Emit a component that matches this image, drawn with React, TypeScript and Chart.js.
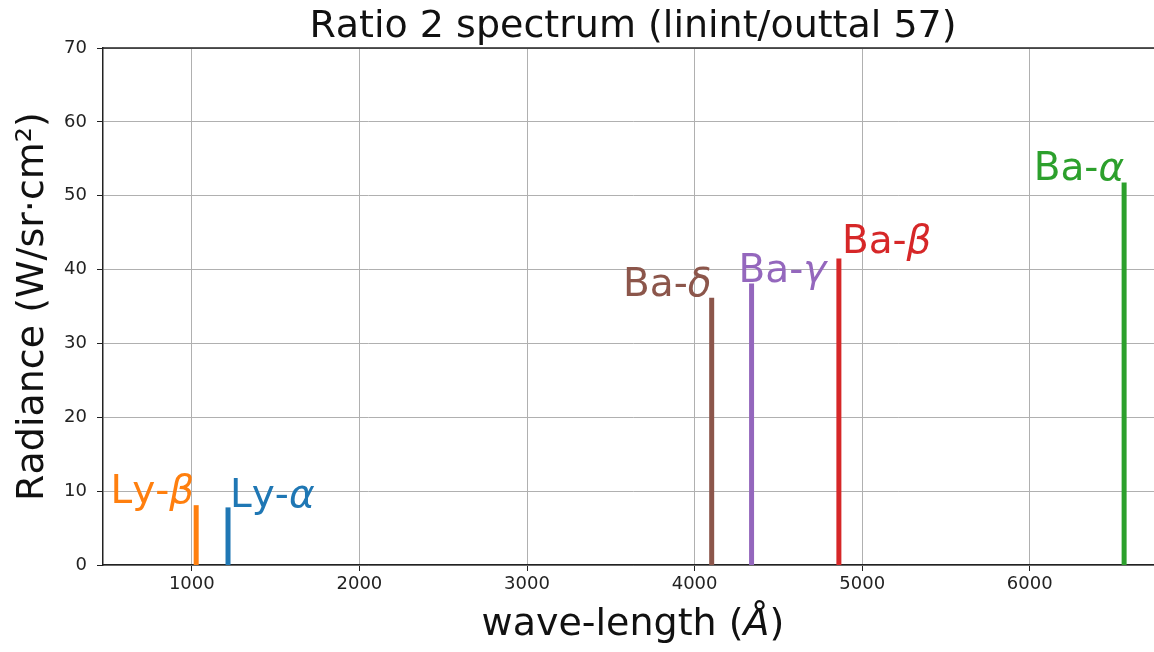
import React, { useEffect, useRef } from 'react';
import { Chart, registerables } from 'chart.js';

Chart.register(...registerables);

// ---- data ----
const linePrefixes = ['Ly-', 'Ly-', 'Ba-', 'Ba-', 'Ba-', 'Ba-'];
const greekLetters = ['α', 'β', 'α', 'β', 'γ', 'δ'];
const wavelengths = [1216, 1026, 6563, 4861, 4340, 4102];
const radiances = [7.8, 8.1, 51.8, 41.5, 38.1, 36.2];
const xTickValues = [1000, 2000, 3000, 4000, 5000, 6000];
const yTickValues = [0, 10, 20, 30, 40, 50, 60, 70];

const titleText = 'Ratio 2 spectrum (linint/outtal 57)';
const yTitleText = 'Radiance (W/sr·cm²)';
const xTitlePre = 'wave-length (';
const xTitleItalic = 'Å';
const xTitlePost = ')';

// ---- styles ----
const lineColors = ['#1f77b4', '#ff7f0e', '#2ca02c', '#d62728', '#9467bd', '#8c564b'];
const labelAlign = ['left', 'right', 'right', 'left', 'left', 'right'];
const labelDx = [2, -2, 0, 3, -13, 0];
const labelDy = [0, -2, -2, -5, -2, -2];

const FONT = '"DejaVu Sans", sans-serif';
const LABEL_SIZE = 39;
const TITLE_SIZE = 38;

const textPlugin = {
  id: 'spectrumText',
  afterDatasetsDraw(chart: any) {
    const ctx = chart.ctx as CanvasRenderingContext2D;
    const xs = chart.scales.x;
    const ys = chart.scales.y;
    ctx.save();
    (ctx as any).fontKerning = 'none';
    ctx.textBaseline = 'alphabetic';
    for (let i = 0; i < wavelengths.length; i++) {
      const px = xs.getPixelForValue(wavelengths[i]) + labelDx[i];
      const py = ys.getPixelForValue(radiances[i]) + labelDy[i];
      ctx.font = `${LABEL_SIZE}px ${FONT}`;
      const w1 = ctx.measureText(linePrefixes[i]).width;
      ctx.font = `italic ${LABEL_SIZE}px ${FONT}`;
      const w2 = ctx.measureText(greekLetters[i]).width;
      const start = labelAlign[i] === 'right' ? px - w1 - w2 : px;
      ctx.fillStyle = lineColors[i];
      ctx.textAlign = 'left';
      ctx.font = `${LABEL_SIZE}px ${FONT}`;
      ctx.fillText(linePrefixes[i], start, py);
      ctx.font = `italic ${LABEL_SIZE}px ${FONT}`;
      ctx.fillText(greekLetters[i], start + w1, py);
    }
    ctx.restore();
  },
  afterDraw(chart: any) {
    const ctx = chart.ctx as CanvasRenderingContext2D;
    const area = chart.chartArea;
    const cx = (area.left + area.right) / 2;
    const cy = (area.top + area.bottom) / 2;
    ctx.save();
    (ctx as any).fontKerning = 'none';
    // top spine
    ctx.strokeStyle = '#222';
    ctx.lineWidth = 1.5;
    ctx.beginPath();
    ctx.moveTo(area.left, area.top);
    ctx.lineTo(area.right, area.top);
    ctx.stroke();
    // title
    ctx.fillStyle = '#111';
    ctx.textBaseline = 'alphabetic';
    ctx.textAlign = 'center';
    ctx.font = `${TITLE_SIZE}px ${FONT}`;
    ctx.fillText(titleText, cx, 37);
    // x title
    ctx.font = `${TITLE_SIZE}px ${FONT}`;
    const a = ctx.measureText(xTitlePre).width;
    const c = ctx.measureText(xTitlePost).width;
    ctx.font = `italic ${TITLE_SIZE}px ${FONT}`;
    const b = ctx.measureText(xTitleItalic).width;
    const sx = cx - (a + b + c) / 2;
    ctx.textAlign = 'left';
    ctx.font = `${TITLE_SIZE}px ${FONT}`;
    ctx.fillText(xTitlePre, sx, 635);
    ctx.font = `italic ${TITLE_SIZE}px ${FONT}`;
    ctx.fillText(xTitleItalic, sx + a, 635);
    ctx.font = `${TITLE_SIZE}px ${FONT}`;
    ctx.fillText(xTitlePost, sx + a + b, 635);
    // y title
    ctx.translate(43, cy);
    ctx.rotate(-Math.PI / 2);
    ctx.textAlign = 'center';
    ctx.font = `${TITLE_SIZE}px ${FONT}`;
    ctx.fillText(yTitleText, 0, 0);
    ctx.restore();
  },
};

export default function App() {
  const ref = useRef<HTMLCanvasElement | null>(null);
  useEffect(() => {
    document.body.style.margin = '0';
    const canvas = ref.current!;
    const datasets = wavelengths.map((wl, i) => ({
      label: linePrefixes[i] + greekLetters[i],
      data: [
        { x: wl, y: 0 },
        { x: wl, y: radiances[i] },
      ],
      borderColor: lineColors[i],
      backgroundColor: lineColors[i],
      borderWidth: 5,
      borderCapStyle: 'butt' as const,
      pointRadius: 0,
      showLine: true,
      fill: false,
    }));
    const chart = new Chart(canvas, {
      type: 'line',
      data: { datasets },
      options: {
        animation: false,
        responsive: false,
        maintainAspectRatio: false,
        layout: { padding: { top: 48, right: 1, left: 0, bottom: 0 } },
        plugins: {
          legend: { display: false },
          title: { display: false },
          tooltip: { enabled: false },
        },
        scales: {
          x: {
            type: 'linear',
            min: 470,
            max: 6795,
            afterFit: (s: any) => {
              s.height = 87;
              s.paddingLeft = 0;
              s.paddingRight = 0;
            },
            afterBuildTicks: (s: any) => {
              s.ticks = xTickValues.map((v) => ({ value: v }));
            },
            ticks: {
              padding: 3,
              color: '#222',
              font: { family: FONT, size: 18 },
              maxRotation: 0,
              autoSkip: false,
              callback: (v: any) => String(v),
            },
            grid: {
              color: '#b0b0b0',
              lineWidth: 1,
              tickLength: 6,
              tickColor: '#222',
            },
            border: { color: '#222', width: 1.5 },
          },
          y: {
            type: 'linear',
            min: 0,
            max: 70,
            afterFit: (s: any) => {
              s.width = 103;
            },
            afterBuildTicks: (s: any) => {
              s.ticks = yTickValues.map((v) => ({ value: v }));
            },
            ticks: {
              padding: 10,
              color: '#222',
              font: { family: FONT, size: 18 },
              autoSkip: false,
              callback: (v: any) => String(v),
            },
            grid: {
              color: '#b0b0b0',
              lineWidth: 1,
              tickLength: 6,
              tickColor: '#222',
            },
            border: { color: '#222', width: 1.5 },
          },
        },
      },
      plugins: [textPlugin],
    });
    return () => chart.destroy();
  }, []);
  return (
    <div
      style={{
        position: 'fixed',
        left: 0,
        top: 0,
        width: 1154,
        height: 652,
        overflow: 'hidden',
        background: '#fff',
      }}
    >
      <canvas ref={ref} width={1164} height={652} style={{ display: 'block' }} />
    </div>
  );
}
